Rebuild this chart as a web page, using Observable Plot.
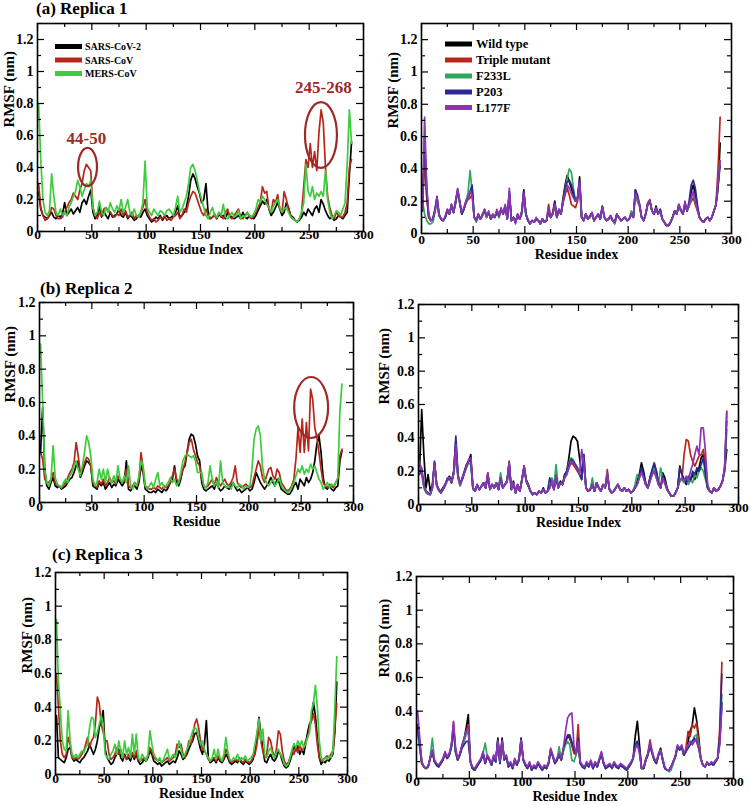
<!DOCTYPE html>
<html>
<head>
<meta charset="utf-8">
<script src="https://cdn.jsdelivr.net/npm/d3@7"></script>
<script src="https://cdn.jsdelivr.net/npm/@observablehq/plot@0.6"></script>
<style>
  html, body { margin: 0; padding: 0; background: #fff; }
  #root { position: relative; width: 750px; height: 805px; overflow: hidden; background: #fff; }
  .panel { position: absolute; }
  .panel svg { display: block; max-width: none; }
  #overlay { position: absolute; left: 0; top: 0; pointer-events: none; }
</style>
</head>
<body>
<div id="root"></div>
<script>
// ---------- axis ticks ----------
const residues = d3.range(1, 290, 2);          // residue index of each sample (1,3,...,289)
const xMajor = [0, 50, 100, 150, 200, 250, 300];
const xMinor = [25, 75, 125, 175, 225, 275];
const yMajor = [0, 0.2, 0.4, 0.6, 0.8, 1, 1.2];
const yMinor = [0.1, 0.3, 0.5, 0.7, 0.9, 1.1];

// ---------- series names / colours ----------
const coronaNames = ["SARS-CoV-2", "SARS-CoV", "MERS-CoV"];
const coronaColors = ["#000000", "#b5271d", "#3ccc3c"];
const variantNames = ["Wild type", "Triple mutant", "F233L", "P203", "L177F"];
const variantColors = ["#000000", "#b5271d", "#2fa85e", "#2b2a94", "#8b35b5"];

// ---------- (a) Replica 1, left ----------
const aSarsCoV2 = [.25,.14,.10,.09,.08,.10,.12,.09,.08,.10, .09,.11,.18,.10,.12,.14,.11,.13,.15,.12, .18,.20,.17,.22,.26,.12,.08,.10,.16,.09, .13,.10,.08,.12,.09,.10,.11,.14,.10,.09, .12,.08,.10,.09,.07,.08,.10,.09,.12,.14, .10,.08,.06,.07,.09,.08,.10,.07,.09,.10, .08,.09,.10,.12,.16,.09,.10,.12,.15,.22, .32,.36,.33,.28,.24,.18,.20,.30,.12,.08, .09,.10,.08,.11,.09,.10,.08,.12,.10,.09, .08,.09,.10,.08,.12,.09,.08,.10,.09,.08, .10,.13,.16,.19,.17,.20,.14,.10,.12,.15, .18,.14,.10,.12,.18,.15,.10,.09,.07,.06, .07,.09,.12,.10,.14,.12,.10,.14,.16,.12, .20,.17,.13,.10,.08,.09,.07,.08,.10,.09, .08,.10,.12,.35,.56];
const aSarsCoV = [.30,.15,.10,.07,.08,.10,.15,.14,.10,.08, .08,.09,.12,.15,.18,.20,.24,.22,.20,.26, .30,.38,.42,.40,.38,.15,.10,.08,.12,.10, .14,.15,.13,.12,.10,.09,.11,.10,.14,.10, .13,.09,.10,.12,.08,.10,.09,.12,.15,.20, .12,.09,.07,.08,.06,.07,.09,.08,.10,.07, .08,.07,.09,.10,.12,.08,.10,.14,.12,.18, .22,.25,.24,.20,.16,.12,.10,.14,.10,.08, .09,.11,.08,.12,.10,.08,.12,.14,.09,.08, .10,.12,.14,.09,.08,.10,.12,.09,.08,.10, .12,.15,.18,.28,.24,.25,.14,.12,.20,.18, .23,.14,.12,.25,.20,.14,.10,.08,.07,.06, .08,.12,.28,.45,.40,.55,.40,.50,.38,.62, .76,.68,.40,.22,.15,.10,.08,.12,.10,.09, .09,.12,.18,.40,.45];
const aMersCoV = [.80,.45,.20,.12,.10,.13,.36,.22,.12,.10, .14,.10,.12,.10,.15,.18,.22,.25,.32,.28, .22,.26,.30,.28,.32,.15,.10,.12,.19,.12, .10,.15,.12,.18,.14,.12,.16,.13,.20,.12, .15,.20,.12,.10,.14,.10,.09,.12,.18,.44, .15,.12,.10,.14,.12,.10,.13,.12,.10,.13, .14,.12,.10,.15,.22,.12,.14,.18,.22,.30, .40,.42,.38,.32,.25,.20,.15,.10,.08,.12, .15,.10,.09,.12,.10,.17,.09,.08,.10,.12, .09,.10,.13,.08,.10,.09,.12,.10,.09,.11, .14,.20,.18,.22,.20,.17,.15,.12,.16,.18, .20,.15,.12,.14,.15,.12,.09,.08,.07,.06, .08,.12,.18,.42,.25,.22,.28,.20,.24,.22, .25,.22,.38,.20,.12,.08,.10,.13,.12,.10, .14,.18,.42,.76,.55];

// ---------- (a) Replica 1, right ----------
const aWildType = [.18,.53,.25,.10,.08,.09,.14,.22,.11,.09, .08,.10,.15,.12,.18,.13,.20,.27,.19,.12, .15,.19,.22,.25,.28,.10,.08,.12,.09,.11, .15,.10,.13,.09,.11,.10,.14,.10,.15,.12, .17,.09,.25,.08,.10,.07,.12,.09,.13,.27, .12,.08,.06,.08,.07,.09,.08,.06,.09,.07, .08,.14,.10,.13,.20,.10,.15,.12,.22,.30, .36,.32,.28,.24,.20,.22,.35,.10,.08,.12, .09,.10,.12,.08,.10,.12,.09,.16,.10,.08, .09,.11,.08,.07,.12,.10,.08,.09,.10,.08, .09,.12,.10,.27,.22,.18,.10,.08,.12,.18, .20,.14,.12,.17,.12,.15,.09,.07,.05,.05, .07,.10,.14,.12,.18,.14,.12,.18,.14,.18, .26,.30,.24,.16,.10,.08,.07,.09,.10,.08, .10,.14,.18,.28,.56];
const aTripleMutant = [.14,.50,.22,.10,.08,.09,.14,.20,.11,.09, .08,.10,.14,.12,.17,.13,.19,.26,.19,.12, .15,.19,.21,.22,.24,.10,.08,.12,.09,.11, .14,.10,.13,.09,.11,.10,.14,.10,.15,.12, .17,.09,.25,.08,.10,.07,.11,.09,.12,.24, .12,.08,.06,.08,.07,.09,.08,.06,.09,.07, .08,.18,.10,.12,.18,.10,.14,.12,.19,.24, .28,.24,.18,.17,.16,.20,.30,.10,.08,.12, .09,.10,.12,.08,.10,.12,.09,.16,.10,.08, .09,.10,.08,.06,.11,.10,.08,.09,.10,.08, .09,.12,.10,.24,.20,.17,.10,.08,.12,.19, .21,.14,.12,.15,.12,.14,.09,.07,.05,.05, .07,.10,.14,.12,.17,.14,.12,.18,.14,.17, .20,.22,.18,.14,.10,.08,.07,.09,.10,.08, .10,.14,.18,.40,.72];
const aF233L = [.20,.12,.08,.06,.06,.07,.13,.20,.11,.09, .08,.10,.14,.12,.17,.13,.19,.26,.19,.12, .15,.20,.25,.39,.26,.10,.07,.11,.09,.11, .14,.10,.13,.09,.11,.10,.14,.10,.15,.12, .17,.09,.25,.08,.10,.07,.11,.09,.12,.24, .12,.08,.06,.08,.07,.09,.08,.06,.09,.07, .08,.14,.10,.12,.18,.10,.14,.12,.20,.28, .34,.40,.38,.28,.20,.22,.30,.10,.08,.12, .09,.10,.12,.08,.10,.12,.09,.17,.10,.08, .09,.10,.08,.06,.11,.10,.08,.09,.10,.08, .09,.14,.12,.24,.20,.17,.10,.08,.12,.18, .20,.14,.12,.15,.12,.14,.09,.07,.05,.05, .07,.10,.14,.12,.17,.14,.12,.18,.14,.17, .22,.25,.20,.15,.10,.08,.07,.09,.10,.08, .10,.14,.18,.30,.45];
const aP203 = [.14,.60,.28,.11,.08,.09,.15,.23,.12,.09, .08,.10,.14,.12,.17,.13,.19,.27,.20,.12, .15,.20,.22,.26,.30,.10,.08,.11,.09,.12, .14,.11,.13,.09,.12,.10,.14,.11,.15,.12, .17,.09,.26,.08,.10,.07,.11,.09,.13,.26, .12,.08,.06,.08,.07,.09,.08,.06,.09,.07, .08,.14,.10,.12,.19,.10,.15,.12,.20,.28, .32,.33,.30,.26,.20,.22,.33,.10,.08,.12, .09,.11,.13,.08,.10,.12,.09,.17,.10,.08, .09,.11,.08,.07,.12,.10,.08,.09,.10,.08, .09,.12,.10,.27,.24,.18,.10,.08,.12,.19, .20,.14,.12,.16,.12,.15,.09,.07,.05,.05, .07,.10,.14,.12,.17,.15,.12,.19,.14,.20, .30,.33,.28,.18,.10,.08,.07,.09,.10,.08, .10,.14,.18,.30,.42];
const aL177F = [.15,.72,.30,.12,.08,.09,.14,.22,.12,.09, .08,.11,.15,.12,.18,.13,.20,.28,.20,.13, .16,.20,.22,.26,.24,.10,.08,.12,.09,.12, .15,.11,.14,.09,.12,.10,.15,.11,.16,.12, .18,.09,.28,.08,.10,.06,.12,.09,.14,.25, .12,.09,.06,.08,.07,.10,.08,.06,.09,.07, .08,.16,.10,.12,.18,.10,.15,.12,.20,.25, .30,.28,.25,.22,.20,.22,.32,.10,.08,.12, .09,.11,.13,.08,.10,.12,.09,.17,.10,.08, .09,.11,.08,.07,.12,.10,.08,.09,.10,.08, .09,.12,.10,.25,.22,.18,.10,.08,.12,.19, .20,.14,.12,.16,.12,.14,.09,.07,.05,.05, .07,.10,.14,.12,.18,.15,.12,.20,.14,.18, .22,.26,.20,.15,.10,.08,.07,.09,.10,.08, .10,.14,.18,.32,.45];

// ---------- (b) Replica 2, left ----------
const bSarsCoV2 = [.30,.57,.20,.10,.08,.12,.15,.10,.09,.10, .08,.09,.10,.12,.14,.15,.18,.22,.25,.15, .18,.22,.25,.24,.22,.10,.09,.08,.12,.10, .12,.08,.10,.12,.09,.11,.10,.14,.12,.10, .12,.25,.08,.07,.09,.10,.08,.12,.22,.18, .08,.07,.06,.06,.07,.06,.08,.07,.06,.08, .07,.09,.12,.14,.22,.12,.10,.14,.20,.22, .30,.38,.41,.40,.35,.28,.25,.12,.08,.07, .08,.09,.10,.08,.12,.09,.07,.08,.10,.09, .08,.10,.12,.09,.07,.08,.06,.07,.08,.09, .07,.08,.12,.18,.15,.12,.10,.08,.10,.12, .15,.12,.10,.14,.12,.08,.07,.06,.05,.05, .07,.10,.12,.08,.14,.12,.10,.15,.12,.14, .18,.25,.35,.40,.30,.15,.09,.08,.10,.08, .07,.09,.10,.25,.31];
const bSarsCoV = [.30,.26,.14,.12,.12,.14,.18,.12,.10,.10, .09,.10,.12,.15,.18,.20,.24,.36,.28,.18, .20,.24,.27,.26,.22,.12,.10,.09,.13,.11, .14,.10,.12,.15,.12,.13,.11,.16,.14,.12, .13,.20,.10,.09,.10,.12,.10,.14,.30,.20, .10,.09,.08,.08,.09,.08,.10,.09,.08,.10, .09,.10,.12,.16,.20,.14,.12,.15,.20,.24, .30,.36,.38,.32,.28,.24,.22,.14,.10,.09, .10,.12,.14,.10,.15,.12,.10,.12,.14,.11, .10,.12,.15,.22,.12,.10,.09,.10,.11,.10, .09,.10,.15,.20,.25,.22,.15,.12,.16,.20, .21,.16,.14,.20,.18,.12,.10,.08,.07,.08, .10,.14,.26,.45,.30,.50,.30,.48,.31,.68, .62,.45,.39,.30,.20,.12,.10,.09,.11,.10, .09,.12,.14,.28,.32];
const bMersCoV = [.95,.60,.20,.12,.10,.14,.34,.15,.11,.10, .09,.12,.14,.12,.16,.18,.22,.25,.20,.16, .22,.30,.40,.36,.28,.14,.10,.12,.20,.14, .20,.12,.20,.14,.12,.16,.12,.22,.14,.12, .16,.12,.22,.10,.08,.12,.10,.16,.25,.22, .10,.08,.10,.12,.09,.14,.18,.10,.12,.09, .10,.12,.15,.12,.14,.10,.12,.18,.25,.28, .29,.28,.27,.28,.25,.18,.18,.18,.10,.09, .12,.22,.14,.10,.12,.09,.25,.12,.10,.09, .10,.08,.12,.10,.09,.11,.10,.08,.10,.09, .10,.20,.38,.44,.46,.40,.22,.14,.12,.10, .12,.14,.10,.12,.15,.10,.08,.07,.06,.07, .09,.12,.16,.20,.18,.22,.17,.20,.18,.23, .20,.22,.18,.14,.12,.08,.10,.12,.09,.11, .10,.12,.15,.55,.71];

// ---------- (b) Replica 2, right ----------
const bWildType = [.20,.57,.30,.10,.18,.08,.12,.25,.12,.09, .08,.10,.12,.15,.17,.14,.20,.38,.18,.12, .16,.20,.24,.26,.30,.10,.08,.12,.09,.11, .13,.10,.18,.09,.12,.10,.13,.09,.17,.10, .12,.14,.24,.09,.14,.07,.12,.08,.15,.23, .15,.12,.08,.06,.07,.06,.08,.07,.10,.07, .08,.10,.15,.09,.18,.10,.14,.12,.18,.20, .28,.38,.41,.40,.38,.28,.18,.25,.10,.08, .09,.12,.08,.13,.10,.08,.12,.10,.18,.09, .07,.08,.10,.12,.09,.08,.10,.08,.09,.07, .08,.10,.14,.18,.25,.20,.13,.10,.16,.20, .24,.20,.13,.10,.19,.16,.10,.07,.05,.05, .07,.10,.23,.18,.15,.12,.16,.14,.18,.15, .20,.22,.28,.30,.20,.10,.08,.07,.10,.08, .09,.11,.14,.20,.33];
const bTripleMutant = [.25,.20,.12,.08,.07,.06,.10,.25,.12,.09, .07,.09,.12,.15,.16,.13,.19,.28,.17,.12, .15,.19,.23,.26,.27,.10,.08,.12,.09,.11, .13,.10,.19,.09,.12,.10,.13,.09,.16,.10, .12,.14,.26,.09,.13,.07,.12,.08,.15,.22, .14,.11,.08,.06,.07,.06,.08,.07,.09,.07, .08,.10,.14,.09,.17,.10,.13,.12,.16,.18, .22,.25,.24,.22,.20,.18,.15,.30,.10,.08, .09,.12,.08,.13,.10,.08,.12,.10,.21,.09, .07,.08,.10,.12,.09,.08,.10,.08,.09,.07, .08,.10,.12,.16,.20,.16,.12,.10,.14,.18, .20,.16,.12,.10,.16,.13,.09,.07,.05,.05, .07,.10,.14,.15,.30,.39,.38,.30,.26,.23, .26,.29,.30,.33,.25,.12,.08,.07,.10,.08, .09,.11,.14,.22,.56];
const bF233L = [.22,.18,.10,.07,.06,.06,.10,.24,.11,.08, .07,.09,.11,.14,.16,.13,.18,.30,.16,.11, .15,.19,.22,.25,.24,.09,.08,.11,.09,.11, .12,.10,.17,.09,.12,.10,.13,.09,.19,.10, .12,.13,.24,.09,.13,.07,.11,.08,.14,.22, .14,.11,.08,.06,.07,.06,.08,.07,.09,.07, .08,.10,.16,.12,.24,.10,.13,.12,.16,.20, .25,.28,.27,.24,.22,.18,.15,.28,.10,.08, .09,.16,.08,.13,.10,.08,.12,.10,.19,.09, .07,.08,.10,.12,.09,.08,.10,.08,.09,.07, .08,.12,.18,.16,.20,.16,.12,.10,.14,.18, .22,.18,.12,.22,.16,.12,.09,.07,.05,.05, .07,.10,.14,.15,.13,.16,.12,.15,.13,.18, .16,.20,.22,.20,.15,.10,.08,.07,.10,.08, .09,.11,.14,.20,.45];
const bP203 = [.18,.22,.12,.08,.07,.06,.10,.26,.12,.09, .07,.09,.12,.15,.16,.13,.19,.41,.17,.12, .15,.19,.23,.26,.26,.10,.08,.12,.09,.11, .13,.10,.18,.09,.12,.10,.13,.09,.16,.10, .12,.14,.25,.09,.13,.07,.12,.08,.15,.23, .14,.11,.08,.06,.07,.06,.08,.07,.09,.07, .08,.16,.12,.09,.17,.10,.13,.12,.17,.20, .24,.27,.26,.24,.22,.18,.15,.30,.10,.08, .09,.12,.08,.13,.10,.08,.12,.10,.18,.09, .07,.08,.10,.12,.09,.08,.10,.08,.09,.07, .08,.10,.12,.17,.22,.18,.12,.10,.16,.21, .25,.20,.13,.10,.17,.14,.09,.07,.05,.05, .07,.10,.22,.18,.15,.13,.17,.15,.20,.18, .22,.20,.24,.28,.18,.10,.08,.07,.10,.08, .09,.11,.14,.22,.50];
const bL177F = [.26,.20,.11,.08,.07,.06,.10,.25,.12,.09, .07,.09,.12,.16,.16,.13,.19,.36,.17,.12, .15,.19,.23,.27,.28,.10,.08,.12,.09,.11, .13,.10,.19,.09,.12,.10,.13,.09,.16,.10, .12,.14,.25,.09,.13,.07,.12,.08,.15,.23, .14,.11,.08,.06,.07,.06,.08,.07,.09,.07, .08,.10,.14,.09,.17,.10,.13,.12,.16,.18, .22,.26,.25,.23,.21,.18,.33,.25,.10,.08, .09,.12,.08,.13,.10,.08,.12,.10,.19,.09, .07,.08,.10,.12,.09,.08,.10,.08,.09,.07, .08,.10,.12,.16,.19,.16,.12,.10,.14,.18, .20,.16,.12,.10,.16,.13,.09,.07,.05,.05, .07,.10,.15,.16,.14,.17,.14,.20,.24,.30, .35,.30,.46,.46,.32,.12,.08,.07,.10,.08, .09,.11,.14,.22,.55];

// ---------- (c) Replica 3, left ----------
const cSarsCoV2 = [.35,.10,.09,.08,.07,.10,.15,.16,.10,.08, .09,.08,.07,.09,.10,.12,.14,.18,.15,.12, .15,.20,.28,.32,.38,.15,.10,.08,.06,.07, .10,.12,.15,.10,.08,.12,.09,.10,.08,.12, .09,.12,.08,.06,.07,.09,.08,.10,.14,.12, .08,.07,.06,.07,.05,.06,.07,.08,.06,.07, .08,.07,.10,.14,.12,.09,.10,.12,.15,.18, .20,.24,.25,.20,.15,.12,.18,.32,.10,.07, .08,.09,.07,.10,.08,.07,.09,.12,.10,.07, .06,.07,.08,.07,.09,.07,.06,.08,.07,.06, .07,.09,.14,.22,.34,.24,.15,.08,.07,.10, .12,.09,.08,.10,.14,.12,.08,.05,.04,.05, .08,.12,.18,.14,.17,.12,.15,.12,.18,.25, .30,.32,.43,.35,.22,.10,.06,.08,.07,.09, .08,.10,.12,.25,.55];
const cSarsCoV = [.60,.40,.20,.12,.10,.12,.22,.18,.10,.09, .10,.09,.10,.12,.14,.18,.22,.16,.20,.22, .30,.46,.42,.30,.25,.20,.20,.12,.09,.10, .12,.16,.12,.15,.10,.11,.09,.12,.10,.13, .10,.14,.09,.08,.09,.10,.09,.11,.16,.14, .10,.09,.08,.09,.07,.08,.09,.10,.08,.09, .10,.12,.18,.16,.18,.12,.10,.14,.20,.18, .22,.30,.33,.28,.20,.15,.14,.12,.09,.08, .09,.10,.08,.11,.09,.08,.10,.15,.12,.08, .07,.08,.09,.08,.10,.08,.07,.09,.08,.07, .08,.10,.12,.18,.28,.20,.14,.10,.12,.22, .20,.14,.10,.15,.26,.24,.14,.08,.06,.07, .10,.14,.12,.16,.13,.18,.14,.16,.20,.22, .28,.32,.36,.30,.18,.10,.08,.09,.10,.11, .10,.12,.14,.28,.42];
const cMersCoV = [.92,.55,.38,.20,.15,.14,.38,.20,.12,.10, .12,.10,.12,.14,.13,.16,.18,.28,.34,.33, .22,.25,.30,.35,.30,.12,.10,.09,.12,.14, .18,.12,.20,.14,.10,.20,.12,.16,.10,.24, .12,.24,.10,.08,.12,.10,.08,.12,.26,.18, .12,.10,.08,.10,.07,.09,.12,.15,.09,.10, .12,.10,.14,.20,.15,.10,.12,.15,.18,.22, .26,.28,.27,.22,.18,.20,.15,.12,.10,.08, .10,.15,.09,.15,.10,.08,.12,.22,.14,.09, .08,.10,.09,.12,.08,.10,.09,.11,.08,.09, .10,.12,.18,.25,.33,.20,.27,.12,.10,.14, .16,.12,.10,.13,.15,.12,.10,.06,.05,.06, .10,.15,.18,.16,.20,.17,.20,.16,.18,.22, .25,.38,.42,.53,.40,.20,.10,.08,.10,.09, .11,.10,.14,.40,.70];

// ---------- (c) Replica 3, right ----------
const cWildType = [.30,.20,.09,.07,.06,.07,.12,.16,.10,.08, .07,.09,.11,.15,.12,.14,.19,.30,.16,.11, .14,.19,.23,.30,.38,.10,.06,.05,.07,.09, .11,.15,.09,.13,.11,.08,.13,.10,.24,.09, .24,.11,.13,.07,.09,.06,.11,.08,.11,.24, .11,.08,.06,.09,.05,.07,.06,.09,.07,.05, .07,.06,.09,.17,.13,.09,.11,.14,.11,.17, .22,.25,.24,.20,.16,.14,.20,.09,.07,.06, .09,.07,.10,.06,.09,.07,.11,.15,.09,.06, .07,.08,.06,.09,.07,.06,.08,.07,.06,.05, .07,.09,.12,.25,.34,.20,.06,.06,.11,.14, .20,.15,.11,.09,.14,.18,.11,.06,.05,.05, .07,.10,.13,.19,.17,.19,.14,.16,.22,.28, .32,.42,.35,.25,.12,.08,.07,.09,.08,.09, .08,.10,.12,.22,.45];
const cTripleMutant = [.32,.22,.10,.07,.06,.07,.12,.16,.10,.08, .07,.09,.11,.15,.12,.14,.19,.33,.16,.11, .14,.19,.23,.28,.32,.10,.06,.05,.07,.09, .11,.15,.09,.13,.11,.08,.13,.10,.22,.09, .22,.11,.13,.07,.09,.06,.11,.08,.11,.22, .11,.08,.06,.09,.05,.07,.06,.09,.07,.05, .07,.06,.09,.17,.13,.09,.11,.14,.11,.17, .22,.26,.25,.20,.15,.14,.32,.10,.07,.06, .09,.07,.10,.06,.09,.07,.11,.15,.09,.06, .07,.08,.06,.09,.07,.06,.08,.07,.06,.05, .07,.09,.12,.18,.22,.16,.06,.06,.11,.15, .23,.16,.11,.09,.14,.17,.11,.06,.05,.05, .07,.10,.13,.19,.17,.19,.14,.18,.28,.25, .32,.30,.33,.22,.12,.08,.07,.09,.08,.09, .08,.10,.12,.30,.69];
const cF233L = [.28,.18,.09,.07,.06,.07,.13,.24,.11,.08, .07,.09,.11,.14,.12,.14,.18,.30,.15,.11, .14,.19,.22,.26,.28,.10,.06,.05,.07,.09, .11,.15,.21,.13,.11,.08,.13,.10,.22,.09, .22,.11,.13,.07,.09,.06,.11,.08,.11,.22, .11,.08,.06,.09,.05,.07,.06,.09,.07,.05, .07,.06,.09,.16,.13,.09,.11,.19,.11,.16, .20,.22,.20,.11,.10,.14,.22,.09,.07,.06, .09,.07,.10,.06,.09,.07,.11,.15,.09,.06, .07,.08,.06,.09,.07,.06,.08,.07,.06,.05, .07,.09,.12,.18,.22,.16,.06,.06,.11,.14, .20,.15,.11,.09,.14,.16,.11,.06,.05,.04, .05,.09,.13,.18,.17,.18,.14,.16,.20,.22, .22,.25,.26,.20,.12,.08,.07,.09,.08,.09, .08,.10,.12,.22,.50];
const cP203 = [.32,.20,.09,.07,.06,.07,.12,.16,.10,.08, .07,.09,.11,.15,.12,.14,.19,.30,.16,.11, .14,.18,.20,.22,.22,.10,.06,.05,.07,.09, .11,.15,.09,.13,.11,.08,.13,.10,.23,.09, .23,.11,.13,.07,.09,.06,.11,.08,.11,.23, .11,.08,.06,.09,.05,.07,.06,.09,.07,.05, .07,.06,.09,.17,.13,.09,.11,.14,.11,.18, .22,.25,.26,.22,.17,.15,.24,.09,.07,.06, .09,.07,.10,.06,.09,.07,.11,.15,.09,.06, .07,.08,.06,.09,.07,.06,.08,.07,.06,.05, .07,.09,.12,.20,.22,.18,.06,.06,.11,.14, .20,.15,.11,.09,.14,.17,.11,.06,.05,.05, .07,.10,.13,.19,.17,.19,.14,.16,.18,.20, .22,.24,.22,.18,.12,.08,.07,.09,.08,.09, .08,.10,.12,.25,.62];
const cL177F = [.40,.25,.10,.07,.06,.07,.12,.17,.11,.09, .08,.10,.12,.16,.13,.15,.20,.34,.18,.12, .15,.20,.24,.28,.30,.10,.07,.06,.08,.10, .12,.16,.10,.14,.12,.09,.14,.11,.22,.10, .22,.12,.14,.08,.10,.07,.12,.09,.12,.23, .12,.09,.07,.10,.06,.08,.07,.10,.08,.06, .08,.07,.10,.18,.14,.10,.12,.15,.12,.18, .28,.36,.38,.39,.20,.15,.22,.10,.08,.07, .10,.08,.11,.07,.10,.08,.12,.16,.10,.07, .08,.09,.07,.10,.08,.07,.09,.08,.07,.06, .08,.10,.12,.18,.20,.15,.06,.07,.12,.15, .21,.16,.12,.10,.15,.17,.12,.07,.05,.05, .07,.10,.14,.20,.18,.20,.15,.17,.20,.22, .20,.22,.24,.18,.12,.08,.07,.10,.08,.10, .09,.11,.12,.20,.42];

// ---------- annotations (data units) ----------
const aNoteLabels = ["44-50", "245-268"];
const aNoteX = [45, 263];
const aNoteY = [0.584, 0.897];
const aCircles = [{x: 46.5, y: 0.40, rx: 8.7, ry: 0.119}, {x: 261.3, y: 0.60, rx: 14.7, ry: 0.206}];
const bCircles = [{x: 260, y: 0.567, rx: 16.2, ry: 0.183}];
const noteColor = "#9c2a26";

const FONT = "'Liberation Serif', 'Times New Roman', serif";
const fmtY = d => d3.format("~g")(d);

const panels = [
  {left: 0, top: 0, width: 375, height: 265, ml: 37, mr: 12, mt: 23, mb: 34, yMax: 1.3,
   xLabel: "Residue Index", yLabel: "RMSF (nm)", xTickDy: 7.5, xLabelDy: 22.5, yLabelDx: -28.5,
   colors: coronaColors, series: [aSarsCoV2, aSarsCoV, aMersCoV],
   notes: true, circles: aCircles},
  {left: 375, top: 0, width: 375, height: 265, ml: 46, mr: 19, mt: 23, mb: 32, yMax: 1.3,
   xLabel: "Residue index", yLabel: "RMSF (nm)", xTickDy: 10, xLabelDy: 25, yLabelDx: -28,
   colors: variantColors, series: [aWildType, aTripleMutant, aF233L, aP203, aL177F]},
  {left: 0, top: 265, width: 375, height: 270, ml: 39, mr: 22, mt: 37, mb: 33, yMax: 1.2,
   xLabel: "Residue", yLabel: "RMSF (nm)", xTickDy: 8, xLabelDy: 23, yLabelDx: -29,
   colors: coronaColors, series: [bSarsCoV2, bSarsCoV, bMersCoV], circles: bCircles},
  {left: 375, top: 265, width: 375, height: 270, ml: 43, mr: 12, mt: 39, mb: 31, yMax: 1.2,
   xLabel: "Residue Index", yLabel: "RMSF (nm)", xTickDy: 7.5, xLabelDy: 22.5, yLabelDx: -34,
   colors: variantColors, series: [bWildType, bTripleMutant, bF233L, bP203, bL177F]},
  {left: 0, top: 535, width: 375, height: 270, ml: 55, mr: 28, mt: 37, mb: 31, yMax: 1.2,
   xLabel: "Residue Index", yLabel: "RMSF (nm)", xTickDy: 8, xLabelDy: 23, yLabelDx: -28,
   colors: coronaColors, series: [cSarsCoV2, cSarsCoV, cMersCoV]},
  {left: 375, top: 535, width: 375, height: 270, ml: 41, mr: 17, mt: 41, mb: 27, yMax: 1.2,
   xLabel: "Residue Index", yLabel: "RMSD (nm)", xTickDy: 7.5, xLabelDy: 22.5, yLabelDx: -32,
   colors: variantColors, series: [cWildType, cTripleMutant, cF233L, cP203, cL177F]}
];

const root = document.getElementById("root");

function scaleFn(s) {
  if (typeof s.apply === "function") return v => s.apply(v);
  return v => s.range[0] + (v - s.domain[0]) / (s.domain[1] - s.domain[0]) * (s.range[1] - s.range[0]);
}

panels.forEach(p => {
  const fw = p.width - p.ml - p.mr;
  const fh = p.height - p.mt - p.mb;
  const yM = yMajor.filter(v => v <= p.yMax + 1e-9);
  const ym = yMinor.filter(v => v <= p.yMax + 1e-9);
  const marks = [];
  p.series.forEach((vals, k) => {
    marks.push(Plot.line(vals, {x: (d, i) => residues[i], y: d => d, stroke: p.colors[k], strokeWidth: 1.7, strokeLinejoin: "round"}));
  });
  const tk = {stroke: "#000", strokeWidth: 1.2};
  marks.push(
    Plot.tickX(xMajor, {x: d => d, insetTop: fh - 7, ...tk}),
    Plot.tickX(xMajor, {x: d => d, insetBottom: fh - 7, ...tk}),
    Plot.tickX(xMinor, {x: d => d, insetTop: fh - 4, ...tk}),
    Plot.tickX(xMinor, {x: d => d, insetBottom: fh - 4, ...tk}),
    Plot.tickY(yM, {y: d => d, insetRight: fw - 7, ...tk}),
    Plot.tickY(yM, {y: d => d, insetLeft: fw - 7, ...tk}),
    Plot.tickY(ym, {y: d => d, insetRight: fw - 4, ...tk}),
    Plot.tickY(ym, {y: d => d, insetLeft: fw - 4, ...tk}),
    Plot.frame({stroke: "#000", strokeWidth: 1.6}),
    Plot.text(xMajor, {x: d => d, frameAnchor: "bottom", dy: p.xTickDy, text: d => String(d), fontSize: 13.5, fontWeight: "bold", fill: "#000"}),
    Plot.text(yM, {y: d => d, frameAnchor: "left", dx: -4, textAnchor: "end", text: fmtY, fontSize: 14, fontWeight: "bold", fill: "#000"}),
    Plot.text([p.xLabel], {frameAnchor: "bottom", dy: p.xLabelDy, text: d => d, fontSize: 14, fontWeight: "bold", fill: "#000"}),
    Plot.text([p.yLabel], {frameAnchor: "left", dx: p.yLabelDx, rotate: -90, text: d => d, fontSize: 15, fontWeight: "bold", fill: "#000"})
  );
  if (p.notes) {
    marks.push(Plot.text(aNoteLabels, {x: (d, i) => aNoteX[i], y: (d, i) => aNoteY[i], text: d => d, fontSize: 17, fontWeight: "bold", fill: noteColor}));
  }
  const chart = Plot.plot({
    width: p.width, height: p.height,
    marginLeft: p.ml, marginRight: p.mr, marginTop: p.mt, marginBottom: p.mb,
    x: {domain: [0, 300], axis: null},
    y: {domain: [0, p.yMax], axis: null},
    style: {fontFamily: FONT, fontWeight: "bold", background: "transparent", color: "#000", overflow: "visible"},
    marks
  });
  if (p.circles) {
    const sx = scaleFn(chart.scale("x")), sy = scaleFn(chart.scale("y"));
    const g = d3.select(chart).append("g");
    p.circles.forEach(c => {
      g.append("ellipse")
        .attr("cx", sx(c.x)).attr("cy", sy(c.y))
        .attr("rx", Math.abs(sx(c.x + c.rx) - sx(c.x)))
        .attr("ry", Math.abs(sy(c.y + c.ry) - sy(c.y)))
        .attr("fill", "none").attr("stroke", noteColor).attr("stroke-width", 2.2);
    });
  }
  const div = document.createElement("div");
  div.className = "panel";
  div.style.left = p.left + "px";
  div.style.top = p.top + "px";
  div.style.width = p.width + "px";
  div.style.height = p.height + "px";
  div.appendChild(chart);
  root.appendChild(div);
});

// ---------- titles and in-plot legends (overlay) ----------
const overlay = d3.select(root).append("svg").attr("id", "overlay").attr("width", 750).attr("height", 805)
  .style("font-family", FONT).style("font-weight", "bold");
const titles = [
  {text: "(a) Replica 1", x: 36, y: 14},
  {text: "(b) Replica 2", x: 40, y: 294},
  {text: "(c) Replica 3", x: 52, y: 560}
];
titles.forEach(t => overlay.append("text").attr("x", t.x).attr("y", t.y).attr("font-size", 17).attr("fill", "#000").text(t.text));

function legend(names, colors, x0, x1, tx, rows, fs) {
  names.forEach((n, i) => {
    overlay.append("line").attr("x1", x0).attr("x2", x1).attr("y1", rows[i]).attr("y2", rows[i])
      .attr("stroke", colors[i]).attr("stroke-width", 5);
    overlay.append("text").attr("x", tx).attr("y", rows[i] + fs * 0.35).attr("font-size", fs).attr("fill", "#000").text(n);
  });
}
legend(coronaNames, coronaColors, 55, 82, 85, [46.5, 60, 73.5], 10);
legend(variantNames, variantColors, 445, 472, 476, [44, 60, 76, 92, 107.5], 12.5);
</script>
</body>
</html>
